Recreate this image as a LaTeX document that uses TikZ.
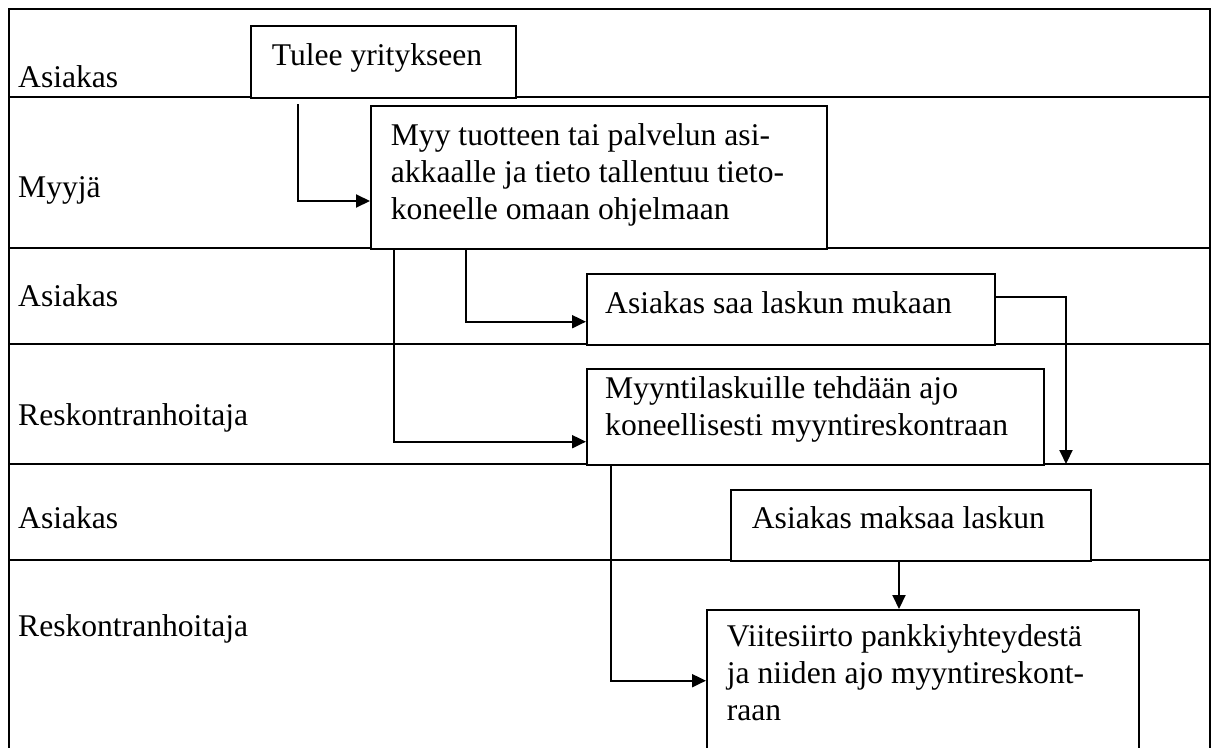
\documentclass[tikz,border=0pt]{standalone}
\usepackage{fontspec}
\setmainfont{Liberation Serif}
\usetikzlibrary{arrows.meta}
\begin{document}
\begin{tikzpicture}[x=1pt,y=-1pt,
  lane/.style={line width=2pt},
  box/.style={draw, line width=2pt, fill=white, inner sep=0pt, anchor=north west},
  txt/.style={inner sep=0pt, anchor=base west, font=\fontsize{31.6}{37}\selectfont},
  arr/.style={line width=2pt, -{Triangle[length=14pt,width=13pt]}}]
\useasboundingbox (0,0) rectangle (1215,747);
\clip (0,0) rectangle (1215,747);
% frame and lanes
\draw[lane] (9,780) -- (9,9) -- (1210,9) -- (1210,780);
\draw[lane] (9,96.7) -- (1210,96.7);
\draw[lane] (9,248) -- (1210,248);
\draw[lane] (9,344) -- (1210,344);
\draw[lane] (9,464) -- (1210,464);
\draw[lane] (9,560) -- (1210,560);
% lane labels
\node[txt] (l1) at (18,87) {Asiakas};
\node[txt] (l2) at (18,197) {Myyjä};
\node[txt] (l3) at (18,306.7) {Asiakas};
\node[txt] (l4) at (18,425) {Reskontranhoitaja};
\node[txt] (l5) at (18,528) {Asiakas};
\node[txt] (l6) at (18,636.7) {Reskontranhoitaja};
% boxes
\node[box, minimum width=265pt, minimum height=71.7pt] (tulee) at (250,25) {};
\node[box, minimum width=456pt, minimum height=143pt] (myy) at (370,105) {};
\node[box, minimum width=408pt, minimum height=71.3pt] (saa) at (586,272.7) {};
\node[box, minimum width=457pt, minimum height=95.7pt] (mlask) at (586,368.3) {};
\node[box, minimum width=360pt, minimum height=71pt] (maksaa) at (730,489) {};
\node[box, minimum width=432pt, minimum height=170pt] (viite) at (706,609) {};
% box texts
\node[txt] (t-tulee) at (271.7,65) {Tulee yritykseen};
\node[txt] (t-myy) at (390.7,145.7) {\begin{tabular}[t]{@{}l@{}}Myy tuotteen tai palvelun asi-\\akkaalle ja tieto tallentuu tieto-\\koneelle omaan ohjelmaan\end{tabular}};
\node[txt] (t-saa) at (605,313) {Asiakas saa laskun mukaan};
\node[txt] (t-mlask) at (605,398.5) {\begin{tabular}[t]{@{}l@{}}Myyntilaskuille tehdään ajo\\koneellisesti myyntireskontraan\end{tabular}};
\node[txt] (t-maksaa) at (751.7,528) {Asiakas maksaa laskun};
\node[txt] (t-viite) at (726.7,646.7) {\begin{tabular}[t]{@{}l@{}}Viitesiirto pankkiyhteydestä\\ja niiden ajo myyntireskont-\\raan\end{tabular}};
% connectors
\coordinate (s1) at (298.3,104.3);
\coordinate (e4) at (1066,464);
\draw[arr] (s1) |- (myy.west |- 0,201);
\draw[arr] (myy.south -| 394,0) |- (mlask.west |- 0,441.7);
\draw[arr] (myy.south -| 466,0) |- (saa.west |- 0,321.7);
\draw[arr] (saa.east |- 0,296.7) -| (e4);
\draw[arr] (mlask.south -| 610.7,0) |- (viite.west |- 0,680.7);
\draw[arr] (maksaa.south -| 899,0) -- (viite.north -| 899,0);
\end{tikzpicture}
\end{document}
